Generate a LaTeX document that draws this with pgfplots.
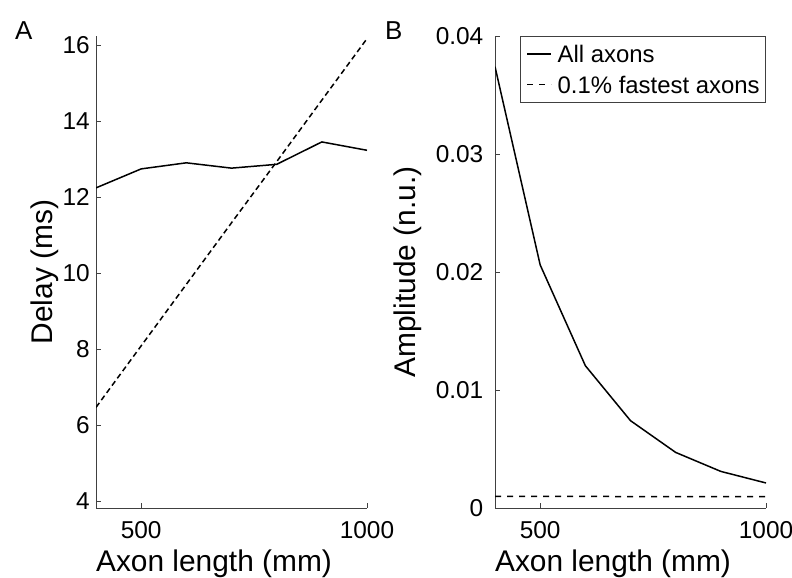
\documentclass[border=0pt]{standalone}
\usepackage{fontspec}
\setmainfont{Liberation Sans}
\usepackage{pgfplots}
\pgfplotsset{compat=1.18}
\definecolor{axgray}{gray}{0.25}
\pgfplotsset{
  myaxis/.style={
    scale only axis, width=271bp, height=472bp,
    anchor=south west,
    axis lines=left, axis line style={-, draw=axgray, line width=0.7bp},
    tick align=inside, major tick length=5bp,
    tick style={draw=axgray, line width=0.7bp},
    xmin=400, xmax=1000, xtick={500,1000},
    /pgf/number format/assume math mode=true,
    /pgf/number format/1000 sep={},
    ticklabel style={font=\fontsize{24.5}{28}\selectfont, inner sep=0pt},
    xticklabel style={yshift=-13.5bp},
    every axis x label/.style={at={(axis description cs:0.5,0)}, anchor=base, yshift=-64bp, xshift=-17.5bp, font=\fontsize{30}{34}\selectfont, inner sep=0pt},
    clip=true,
  },
  mysolid/.style={black, line width=1.5bp},
  mydashed/.style={black, line width=1.5bp, dash pattern=on 5.5bp off 3.5bp},
}
\begin{document}
\begin{tikzpicture}[x=1bp,y=1bp]
\useasboundingbox (0,0) rectangle (792,578);
\begin{axis}[myaxis, at={(96bp,70bp)},
  ymin=3.82, ymax=16.25, ytick={4,6,8,10,12,14,16},
  yticklabel style={xshift=-6bp},
  xlabel={Axon length (mm)}, ylabel={Delay (ms)},
  every axis y label/.style={at={([xshift=-43bp]axis description cs:0,0.5)}, rotate=90, anchor=base, font=\fontsize{30}{34}\selectfont, inner sep=0pt},
]
\addplot[mysolid] coordinates {(400,12.25) (500,12.75) (600,12.91) (700,12.77) (800,12.87) (900,13.46) (1000,13.24)};
\addplot[mydashed] coordinates {(400,6.47) (500,8.09) (600,9.71) (700,11.33) (800,12.94) (900,14.56) (1000,16.18)};
\end{axis}
\begin{axis}[myaxis, at={(495bp,70bp)},
  ymin=0, ymax=0.04, ytick={0,0.01,0.02,0.03,0.04},
  yticklabel style={xshift=-11.5bp, /pgf/number format/fixed, /pgf/number format/precision=2},
  scaled y ticks=false,
  xlabel={Axon length (mm)}, ylabel={Amplitude (n.u.)},
  every axis y label/.style={at={([xshift=-80bp]axis description cs:0,0.5)}, rotate=90, anchor=base, font=\fontsize{30}{34}\selectfont, inner sep=0pt},
  legend cell align=left,
  legend image code/.code={\draw[#1] (0bp,0bp) -- (24bp,0bp);},
  legend style={at={(1,1)}, anchor=north east, draw=axgray, line width=0.7bp,
    font=\fontsize{24}{28}\selectfont, inner xsep=6bp, inner ysep=9bp, row sep=13.7bp,
    nodes={inner sep=0pt, text height=17bp, text depth=0bp},
    /tikz/every odd column/.append style={column sep=5.5bp}},
]
\addplot[mysolid] coordinates {(400,0.0374) (500,0.0206) (600,0.01206) (700,0.0074) (800,0.00471) (900,0.0031) (1000,0.00212)};
\addlegendentry{All axons}
\addplot[mydashed, dash pattern=on 6bp off 6bp] coordinates {(400,0.00098) (500,0.00098) (600,0.00098) (700,0.00097) (800,0.00097) (900,0.00096) (1000,0.00096)};
\addlegendentry{0.1\% fastest axons}
\end{axis}
\node[anchor=base west, inner sep=0pt, font=\fontsize{26}{30}\selectfont] at (15,538.7) {A};
\node[anchor=base west, inner sep=0pt, font=\fontsize{26}{30}\selectfont] at (385,538.7) {B};
\end{tikzpicture}
\end{document}
